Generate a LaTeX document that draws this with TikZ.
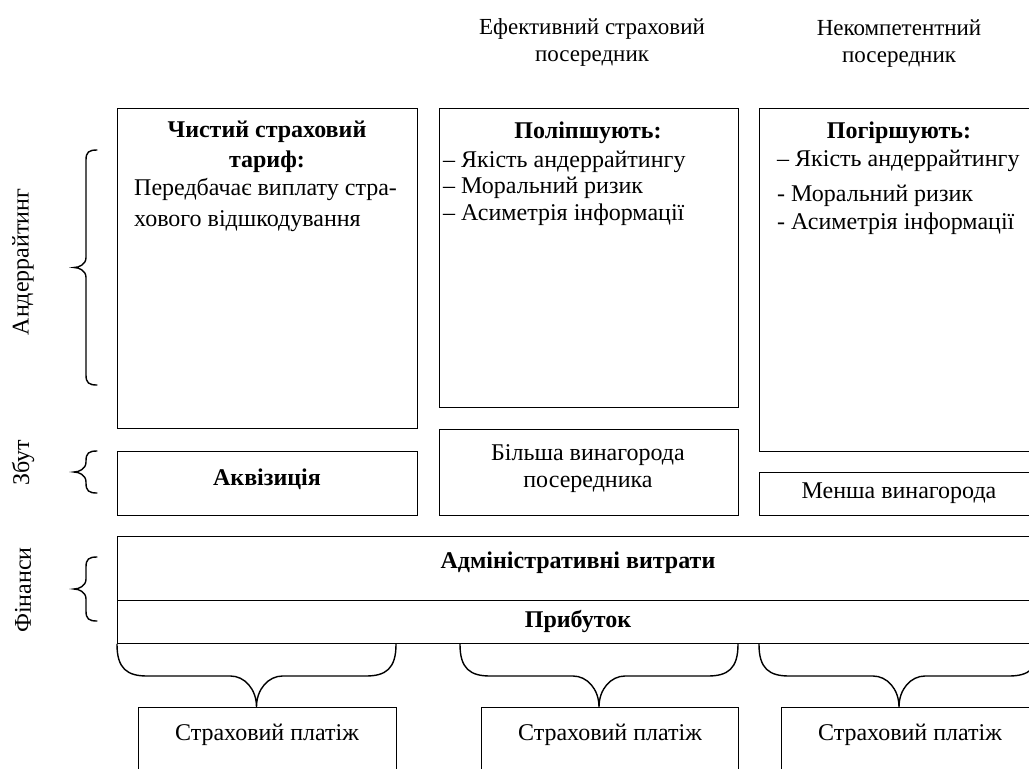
\documentclass[tikz,border=0pt]{standalone}
\usepackage{fontspec}
\setmainfont{Liberation Serif}
\usepackage{tikz}
\usetikzlibrary{positioning,calc}
\tikzstyle{box}=[draw,line width=1.4pt,inner sep=0pt,anchor=north west]
\tikzstyle{txt}=[inner sep=0pt,align=center,font=\fontsize{24}{27}\selectfont]
\tikzstyle{btxt}=[txt,font=\fontsize{24}{30}\selectfont\bfseries]
\tikzstyle{htxt}=[txt,font=\fontsize{23}{27}\selectfont]
\tikzstyle{brc}=[line width=1.4pt,line cap=round]

\begin{document}
\begin{tikzpicture}[x=1pt,y=-1pt]
    \useasboundingbox (0,0) rectangle (1029,769);
    \clip (0,0) rectangle (1029,769);
    % headers
    \node[htxt] (hdEff) at (592,42) {Ефективний страховий\\посередник};
    \node[htxt] (hdInc) at (899,44) {Некомпетентний\\посередник};
    % underwriting row
    \node[box,minimum width=300pt,minimum height=320pt] (tarif) at (117,108) {};
    \node[box,minimum width=299pt,minimum height=299pt] (better) at (439,108) {};
    \node[box,minimum width=280pt,minimum height=343pt] (worse) at (759,108) {};
    \node[btxt] (tarifT) at (267,147) {Чистий страховий\\тариф:};
    \node[txt,anchor=west,align=left,font=\fontsize{24}{31}\selectfont] (tarifB) at (134,205) {Передбачає виплату стра-\\хового відшкодування};
    \node[btxt] (betterT) at (588,133) {Поліпшують:};
    \node[txt,anchor=west,align=left,font=\fontsize{24}{26.5}\selectfont] (betterL) at (443,188) {– Якість андеррайтингу\\– Моральний ризик\\– Асиметрія інформації};
    \node[btxt] (worseT) at (899,133) {Погіршують:};
    \node[txt,anchor=west,align=left,font=\fontsize{24}{28}\selectfont] (worseL) at (777,192) {– Якість андеррайтингу\\[7pt]- Моральний ризик\\- Асиметрія інформації};
    % sales row
    \node[box,minimum width=300pt,minimum height=64pt] (akv) at (117,451) {};
    \node[box,minimum width=299pt,minimum height=86pt] (more) at (439,429) {};
    \node[box,minimum width=280pt,minimum height=43pt] (less) at (759,472) {};
    \node[btxt] (akvT) at (267,479) {Аквізиція};
    \node[txt] (moreT) at (588,469) {Більша винагорода\\посередника};
    \node[txt] (lessT) at (899,493) {Менша винагорода};
    % finance
    \node[box,minimum width=922pt,minimum height=64pt] (admin) at (117,536) {};
    \node[box,minimum width=922pt,minimum height=43pt] (profit) at (117,600) {};
    \node[btxt] (adminT) at (578,563) {Адміністративні витрати};
    \node[btxt] (profitT) at (578,621) {Прибуток};
    % payments
    \node[box,minimum width=258pt,minimum height=80pt] (pay1) at (138,707) {};
    \node[box,minimum width=257pt,minimum height=80pt] (pay2) at (481,707) {};
    \node[box,minimum width=258pt,minimum height=80pt] (pay3) at (781,707) {};
    \node[txt] (payT1) at (267,735) {Страховий платіж};
    \node[txt] (payT2) at (610,735) {Страховий платіж};
    \node[txt] (payT3) at (910,735) {Страховий платіж};
    % left labels
    \node[txt,rotate=90] (lblUnd) at (23,262) {Андеррайтинг};
    \node[txt,rotate=90] (lblSale) at (23,463) {Збут};
    \node[txt,rotate=90] (lblFin) at (23,590) {Фінанси};
    % left braces
    \foreach \t/\b in {150/385,451/493,557/621}{
        \pgfmathsetmacro\m{(\t+\b)/2}
        \draw[brc] (97,\t) .. controls +(-8,0) and +(0,-8) .. (86,\t+10) -- (86,\m-10)
            .. controls +(0,7) and +(5,0) .. (74,\m) .. controls +(5,0) and +(0,-7) .. (86,\m+10)
            -- (86,\b-10) .. controls +(0,8) and +(-8,0) .. (97,\b);
    }
    % braces under profit
    \foreach \l/\r/\n in {117/396/pay1,460/738/pay2,759/1039/pay3}{
        \pgfmathsetmacro\m{(\l+\r)/2}
        \draw[brc] (profit.south -| \l,0) .. controls +(0,24) and +(-20,0) .. (\l+30,676) -- (\m-26,676)
            .. controls +(14,0) and +(0,-18) .. (\n.north -| \m,0)
            .. controls +(0,-18) and +(-14,0) .. (\m+26,676) -- (\r-30,676)
            .. controls +(20,0) and +(0,24) .. (profit.south -| \r,0);
    }
\end{tikzpicture}
\end{document}
